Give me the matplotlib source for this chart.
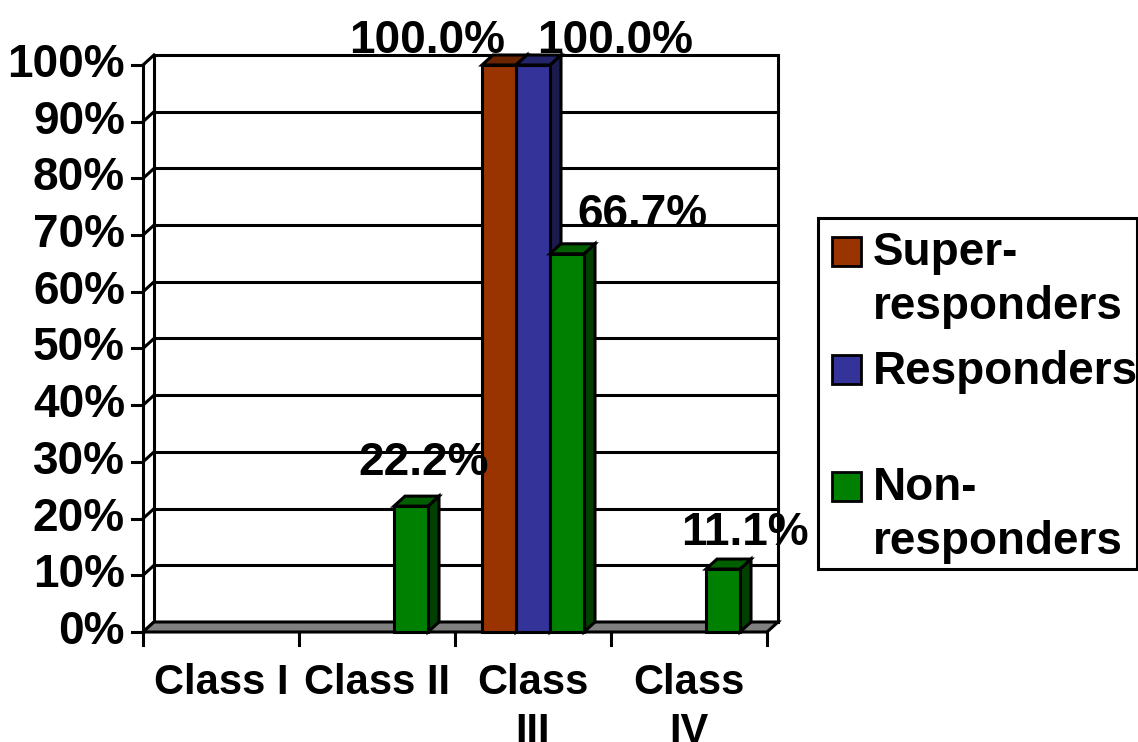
import numpy as np
import matplotlib
matplotlib.use("Agg")
import matplotlib.pyplot as plt
from matplotlib.patches import Polygon, Rectangle

plt.rcParams['font.family'] = ['Liberation Sans', 'DejaVu Sans']
plt.rcParams['font.weight'] = 'bold'

# data
categories = ["Class I", "Class II", "Class\nIII", "Class\nIV"]
series_names = ["Super-\nresponders", "Responders", "Non-\nresponders"]
super_responders = [0, 0, 100.0, 0]
responders = [0, 0, 100.0, 0]
non_responders = [0, 22.2, 66.7, 11.1]
y_ticks = [0, 10, 20, 30, 40, 50, 60, 70, 80, 90, 100]

values = [super_responders, responders, non_responders]
front_colors = ["#993300", "#333399", "#008000"]
top_colors = ["#6b2400", "#24246b", "#006000"]
side_colors = ["#4d1a00", "#1a1a4d", "#004000"]

# label offsets in pixels (x, y) from the top centre of each bar, Excel style
label_offsets = {(0, 2): (-72, 24), (1, 2): (82, 24), (2, 2): (75, 39),
                 (2, 1): (13, 43), (2, 3): (22, 36)}

W, H = 1138, 742
fig = plt.figure(figsize=(W / 100, H / 100), dpi=100)

# front plane of the plot in pixels
x_left, x_right = 143, 767
y_zero, y_top = 632, 65
ax = fig.add_axes([x_left / W, 1 - y_zero / H, (x_right - x_left) / W, (y_zero - y_top) / H])
ax.set_xlim(-0.5, 3.5)
ax.set_ylim(0, 100)
ax.axis('off')

px_x = 4.0 / (x_right - x_left)
px_y = 100.0 / (y_zero - y_top)
dx = 11 * px_x
dy = 10 * px_y
lw = 2.2

# floor
ax.add_patch(Polygon([(-0.5, 0), (3.5, 0), (3.5 + dx, dy), (-0.5 + dx, dy)],
                     closed=True, facecolor="#808080", edgecolor="black", lw=lw,
                     clip_on=False, zorder=1))
# back wall grid lines and left wall
for t in y_ticks:
    ax.plot([-0.5 + dx, 3.5 + dx], [t + dy, t + dy], color="black", lw=lw, clip_on=False, zorder=0)
    ax.plot([-0.5, -0.5 + dx], [t, t + dy], color="black", lw=lw, clip_on=False, zorder=0)
    ax.plot([-0.5 - 11 * px_x, -0.5], [t, t], color="black", lw=lw, clip_on=False, zorder=2)
    ax.text(-0.5 - 18 * px_x, t, f"{t}%", ha="right", va="center", fontsize=33,
            fontweight="bold", clip_on=False)
ax.plot([-0.5 + dx, -0.5 + dx], [dy, 100 + dy], color="black", lw=lw, clip_on=False, zorder=0)
ax.plot([3.5 + dx, 3.5 + dx], [dy, 100 + dy], color="black", lw=lw, clip_on=False, zorder=0)
ax.plot([-0.5, -0.5], [0, 100], color="black", lw=lw, clip_on=False, zorder=2)

# category ticks and labels
for i in range(len(categories) + 1):
    ax.plot([i - 0.5, i - 0.5], [0, -13 * px_y], color="black", lw=lw, clip_on=False, zorder=2)
for i, c in enumerate(categories):
    ax.text(i, -31 * px_y, c, ha="center", va="top", fontsize=30, fontweight="bold",
            linespacing=1.28, clip_on=False)

# bars
bw = 0.218
for s, vals in enumerate(values):
    for i, v in enumerate(vals):
        if v == 0:
            continue
        x0 = i + (s - 1) * bw - bw / 2
        x1 = x0 + bw
        ax.add_patch(Polygon([(x1, 0), (x1 + dx, dy), (x1 + dx, v + dy), (x1, v)], closed=True,
                             facecolor=side_colors[s], edgecolor="black", lw=lw,
                             clip_on=False, zorder=3))
        ax.add_patch(Polygon([(x0, v), (x1, v), (x1 + dx, v + dy), (x0 + dx, v + dy)], closed=True,
                             facecolor=top_colors[s], edgecolor="black", lw=lw,
                             clip_on=False, zorder=3))
        ax.add_patch(Rectangle((x0, 0), bw, v, facecolor=front_colors[s], edgecolor="black",
                               lw=lw, clip_on=False, zorder=3))
        off = label_offsets.get((s, i), (0, 30))
        ax.annotate(f"{v:.1f}%", xy=(x0 + bw / 2, v), xytext=off, textcoords="offset pixels",
                    ha="center", va="center", fontsize=33, fontweight="bold",
                    annotation_clip=False, zorder=5)

# legend box, drawn by hand
def fx(x):
    return x / W

def fy(y):
    return 1 - y / H

fig.patches.append(Rectangle((fx(818), fy(569)), fx(1137) - fx(818), fy(218) - fy(569),
                             transform=fig.transFigure, facecolor="white",
                             edgecolor="black", lw=lw))
legend_baselines = [266, 384, 501]
line_step = 53
for s, name in enumerate(series_names):
    base = legend_baselines[s]
    fig.patches.append(Rectangle((fx(832), fy(base)), fx(861) - fx(832), fy(base - 29) - fy(base),
                                 transform=fig.transFigure, facecolor=front_colors[s],
                                 edgecolor="black", lw=2))
    # matplotlib puts the baseline of the last line at y
    n_extra = name.count("\n")
    fig.text(fx(873), fy(base + line_step * n_extra), name, ha="left", va="baseline",
             fontsize=33, fontweight="bold", linespacing=1.30,
             transform=fig.transFigure)

fig.savefig("out.png", dpi=100)
